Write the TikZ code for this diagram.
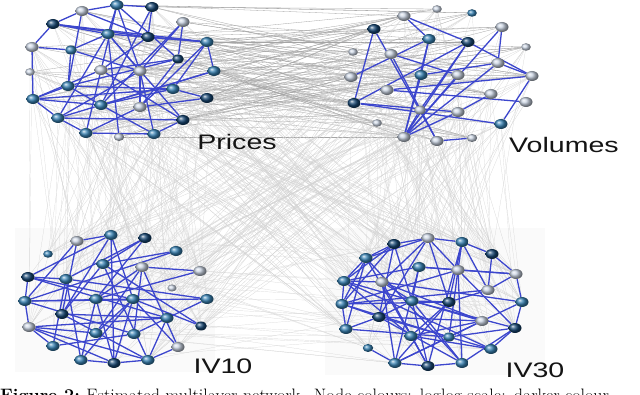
\documentclass[tikz,border=0pt]{standalone}
\usepackage{fontspec}
\newfontfamily\labfont{Liberation Sans}
\usetikzlibrary{shapes.geometric}
\definecolor{cD}{RGB}{22,70,115}
\definecolor{cM}{RGB}{55,130,180}
\definecolor{cW}{RGB}{200,210,225}
\definecolor{edgeblue}{RGB}{60,70,205}
\definecolor{pvgrey}{RGB}{165,165,165}
\definecolor{ltgrey}{RGB}{212,212,212}
\pgfdeclarelayer{paperlayer}
\pgfdeclarelayer{greylayer}
\pgfdeclarelayer{bluelayer}
\pgfsetlayers{paperlayer,greylayer,bluelayer,main}
\tikzset{
  ball/.style={ellipse, inner sep=0pt, shading=ball, ball color=#1},
  bsize/.style={minimum width=13pt*#1, minimum height=10pt*#1},
  be/.style={draw=edgeblue, line width=1.3pt},
  pv/.style={draw=pvgrey, line width=0.3pt},
  lt/.style={draw=ltgrey, line width=0.2pt},
  lab/.style={font=\fontsize{21}{21}\selectfont\labfont, inner sep=0pt, text=black!92},
}
\begin{document}
\begin{tikzpicture}[x=1pt,y=-1pt]
\useasboundingbox (0,0) rectangle (640,395);
\clip (0,0) rectangle (640,395);
\begin{pgfonlayer}{paperlayer}
\fill[white] (0,0) rectangle (640,395);
\fill[black!2] (15,228) rectangle (215,372);
\fill[black!2] (325,228) rectangle (545,375);
\end{pgfonlayer}
% nodes: Prices
\foreach \n/\x/\y/\c/\s in {1/117/5/cM/1, 2/152/7/cD/1, 3/82/11/cW/1, 4/53/24/cD/1, 5/183/22/cW/1,
  6/108/34/cM/1, 7/148/37/cD/1, 8/32/47/cW/1, 9/71/50/cM/0.9, 10/207/42/cM/1, 11/178/59/cD/0.9,
  12/30/72/cW/0.75, 13/101/70/cW/1, 14/140/71/cW/1, 15/214/71/cM/1, 16/68/86/cM/1, 17/173/89/cM/1,
  18/33/99/cM/1, 19/207/98/cD/1, 20/101/105/cM/1, 21/140/107/cW/1, 22/58/118/cM/1, 23/183/120/cD/1,
  24/86/133/cM/1, 25/119/137/cW/0.8, 26/154/134/cM/1}
  \node[ball=\c, bsize=\s] (P\n) at (\x,\y) {};
% nodes: Volumes
\foreach \n/\x/\y/\c/\s in {1/437/9/cW/0.75, 2/472/13/cM/0.75, 3/404/16/cW/1, 4/502/27/cW/1, 5/374/29/cD/1,
  6/429/39/cM/1, 7/468/42/cD/1, 8/526/47/cW/0.75, 9/353/52/cW/0.75, 10/391/54/cW/1, 11/498/63/cW/1,
  12/351/77/cW/1, 13/421/75/cM/1, 14/458/75/cW/1, 15/532/76/cW/1, 16/387/90/cW/1, 17/491/94/cW/1,
  18/354/103/cD/1, 19/526/102/cW/1, 20/420/110/cW/0.9, 21/458/112/cW/1, 22/377/123/cW/0.75,
  23/501/124/cM/1, 24/404/137/cW/1, 25/437/141/cW/1, 26/472/138/cW/0.8}
  \node[ball=\c, bsize=\s] (V\n) at (\x,\y) {};
% nodes: IV10
\foreach \n/\x/\y/\c/\s in {1/111/235/cM/1, 2/145/238/cD/1, 3/77/241/cW/1, 4/48/254/cM/0.75, 5/176/251/cM/1,
  6/103/264/cM/1, 7/142/267/cW/1, 8/200/271/cW/1, 9/28/277/cD/1, 10/66/279/cM/1, 11/172/288/cW/0.7,
  12/25/301/cM/1, 13/96/299/cM/1, 14/133/299/cM/1, 15/207/299/cM/1, 16/62/314/cD/1, 17/167/318/cM/1,
  18/29/327/cW/1, 19/201/326/cD/0.9, 20/96/333/cM/1, 21/134/334/cM/1, 22/53/346/cM/1, 23/178/347/cW/1,
  24/81/360/cM/1, 25/114/363/cD/1, 26/148/360/cM/1}
  \node[ball=\c, bsize=\s] (A\n) at (\x,\y) {};
% nodes: IV30
\foreach \n/\x/\y/\c/\s in {1/428/238/cW/1, 2/394/244/cD/1, 3/462/242/cM/1, 4/492/254/cD/1, 5/366/258/cM/1,
  6/419/267/cM/1, 7/458/270/cW/1, 8/516/274/cW/1, 9/344/281/cM/1, 10/382/282/cW/1, 11/488/290/cW/1,
  12/342/304/cM/1, 13/412/301/cM/1, 14/449/302/cD/1, 15/522/302/cM/1, 16/379/317/cD/1, 17/482/321/cW/1,
  18/346/329/cM/1, 19/515/328/cD/1, 20/411/336/cM/1, 21/449/337/cM/0.9, 22/368/348/cM/0.8,
  23/491/349/cM/1, 24/395/363/cM/1, 25/428/366/cD/1, 26/462/363/cM/1}
  \node[ball=\c, bsize=\s] (B\n) at (\x,\y) {};
% labels
\node[lab] (lp) at (237,142) {\scalebox{1.36}[1]{Prices}};
\node[lab] (lv) at (564,145) {\scalebox{1.36}[1]{Volumes}};
\node[lab] (la) at (223,366) {\scalebox{1.36}[1]{IV10}};
\node[lab] (lb) at (535,370) {\scalebox{1.36}[1]{IV30}};
% caption (cut by the lower edge, as in the reference)
\node[anchor=base west, inner sep=0pt, font=\fontsize{18}{20}\selectfont] (cap) at (0,401.5)
  {\textbf{Figure 2:}\hspace{0.35em}Estimated multilayer network.\hspace{0.5em}Node colours:\hspace{0.45em}loglog scale;\hspace{0.45em}darker colour};
% inter-layer grey links
\begin{pgfonlayer}{greylayer}
\pgfmathsetseed{11}
\foreach \k in {1,...,120}{
  \pgfmathrandominteger{\a}{1}{26}\pgfmathrandominteger{\b}{1}{26}
  \draw[pv] (P\a) -- (V\b);}
\foreach \k in {1,...,110}{
  \pgfmathrandominteger{\a}{1}{26}\pgfmathrandominteger{\b}{1}{26}
  \draw[lt] (P\a) -- (A\b);}
\foreach \k in {1,...,110}{
  \pgfmathrandominteger{\a}{1}{26}\pgfmathrandominteger{\b}{1}{26}
  \draw[lt] (V\a) -- (B\b);}
\foreach \k in {1,...,90}{
  \pgfmathrandominteger{\a}{1}{26}\pgfmathrandominteger{\b}{1}{26}
  \draw[lt] (P\a) -- (B\b);}
\foreach \k in {1,...,90}{
  \pgfmathrandominteger{\a}{1}{26}\pgfmathrandominteger{\b}{1}{26}
  \draw[lt] (V\a) -- (A\b);}
\foreach \k in {1,...,30}{
  \pgfmathrandominteger{\a}{1}{26}\pgfmathrandominteger{\b}{1}{26}
  \draw[lt] (A\a) -- (B\b);}
\end{pgfonlayer}
% intra-layer blue links
\begin{pgfonlayer}{bluelayer}
\foreach \u/\w in {1/2, 1/3, 3/4, 4/8, 4/6, 4/7, 4/10, 3/7, 3/16, 1/6, 1/13, 1/14, 1/11, 2/7, 2/20,
  5/14, 5/20, 5/11, 6/10, 7/10, 7/13, 10/15, 10/21, 10/17, 8/9, 8/18, 9/16, 9/14, 16/18, 16/20,
  18/22, 18/20, 18/17, 18/13, 22/24, 22/14, 22/20, 22/6, 22/23, 24/13, 24/26, 24/21, 26/23, 23/6,
  23/13, 20/17, 20/15, 17/19, 21/14, 25/6, 11/16, 15/20, 13/11, 14/26, 19/21, 16/17, 9/6, 20/26,
  21/11, 6/14}
  \draw[be] (P\u) -- (P\w);
\foreach \u/\w in {3/7, 3/6, 5/18, 5/25, 6/12, 6/13, 6/24, 7/18, 7/15, 7/20, 4/11, 4/24, 11/13,
  11/24, 11/15, 10/14, 10/25, 16/15, 16/19, 18/21, 18/23, 20/24, 21/17, 15/23, 24/14, 24/7, 25/26,
  13/24, 21/24}
  \draw[be] (V\u) -- (V\w);
\foreach \u/\w in {1/9, 1/16, 1/14, 1/3, 1/25, 2/6, 2/10, 2/13, 3/16, 3/12, 5/6, 5/12, 7/8, 7/23,
  7/21, 7/20, 7/13, 8/13, 9/12, 9/17, 9/10, 9/14, 10/15, 10/24, 12/14, 12/21, 12/15, 13/24, 13/25,
  14/24, 14/25, 14/19, 16/17, 16/6, 18/20, 18/17, 18/26, 18/25, 18/12, 22/21, 22/18, 24/25, 25/26,
  26/23, 23/14, 21/15, 17/26, 6/19, 10/22, 20/14, 16/26, 6/26}
  \draw[be] (A\u) -- (A\w);
\foreach \u/\w in {1/2, 1/3, 1/5, 1/10, 1/16, 1/14, 1/7, 2/5, 2/9, 2/16, 2/13, 2/12, 3/4, 3/7,
  3/14, 3/25, 3/11, 4/8, 4/11, 5/9, 5/12, 5/18, 5/20, 6/8, 6/9, 6/13, 6/24, 6/7, 7/8, 7/12, 7/21,
  7/26, 7/19, 8/11, 8/15, 9/12, 9/10, 9/17, 9/23, 10/13, 10/15, 10/24, 10/25, 10/17, 11/14, 11/12,
  12/14, 12/16, 12/18, 12/21, 13/14, 13/16, 13/25, 13/26, 14/20, 14/24, 15/19, 15/17, 16/17, 16/18,
  16/23, 16/26, 17/20, 17/21, 17/24, 18/21, 19/23, 19/21, 20/25, 20/23, 21/24, 22/24, 24/25, 25/26,
  26/19, 13/19, 9/20, 5/26}
  \draw[be] (B\u) -- (B\w);
\end{pgfonlayer}
\end{tikzpicture}
\end{document}
